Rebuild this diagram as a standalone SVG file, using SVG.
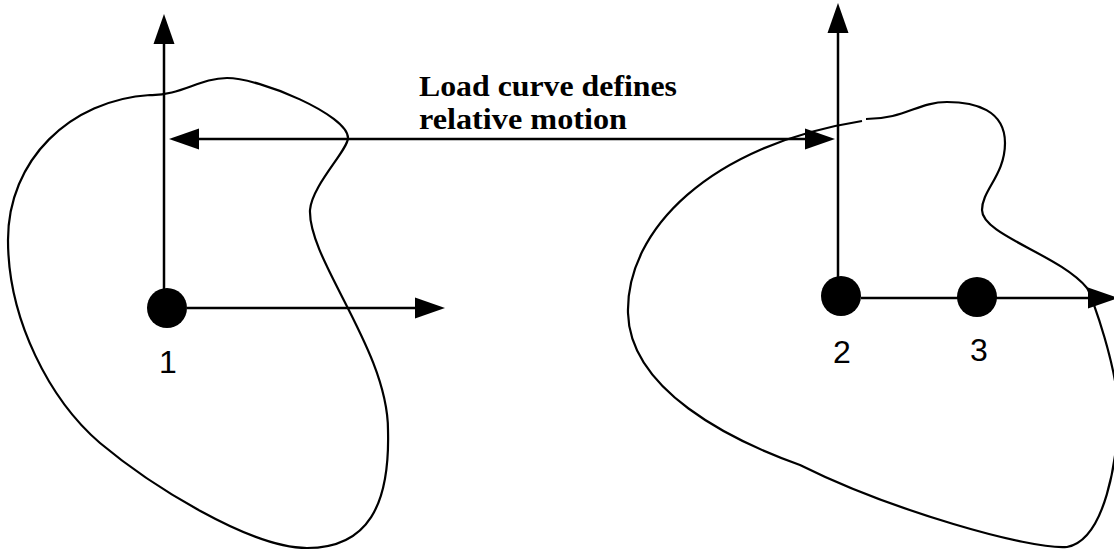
<svg xmlns="http://www.w3.org/2000/svg" width="1114" height="552" viewBox="0 0 1114 552">
<style>
.blob{fill:none;stroke:#000;stroke-width:2.2;stroke-linejoin:round}
.ax{fill:none;stroke:#000;stroke-width:2.5}
.node{fill:#000}
.num{font-family:"Liberation Sans",Arial,sans-serif;font-size:32px;fill:#000;text-anchor:middle}
.lbl{font-family:"Liberation Serif","Times New Roman",serif;font-size:29px;font-weight:bold;fill:#000}
</style>
<defs>
<marker id="ah" markerUnits="userSpaceOnUse" markerWidth="31" markerHeight="22" refX="0" refY="10.5" orient="auto-start-reverse" viewBox="0 0 31 21">
<path d="M0,0 L30,10.5 L0,21 Z" fill="#000"/>
</marker>
</defs>
<g id="bodies">
<path id="body1" class="blob" d="M150,95 C180,96 200,78 227,78 C260,78 348,115 348,138 C348,150 312,185 310,210 C308,260 388,350 388,430 C390,505 368,548 307,548 C250,548 150,485 100,443 C50,400 8,320 8,240 C8,160 70,100 150,95 Z"/>
<path id="body2" class="blob" d="M866,119 C905,119 918,102 947,102 C975,102 1005,110 1005,143 C1005,175 982,190 982,210 C982,235 1060,255 1087,288 C1092,296 1118,370 1118,410 C1118,460 1105,540 1067,547 C1030,550 890,510 800,465 C730,440 630,390 628,313 C626,230 710,145 862,121"/>
</g>
<g id="connectors">
<line class="ax" x1="164" y1="290" x2="164" y2="44" marker-end="url(#ah)"/>
<line class="ax" x1="187" y1="308" x2="415" y2="308" marker-end="url(#ah)"/>
<line class="ax" x1="838" y1="278" x2="838" y2="33" marker-end="url(#ah)"/>
<line class="ax" x1="861" y1="298" x2="1088" y2="298" marker-end="url(#ah)"/>
<line class="ax" x1="199" y1="139" x2="805" y2="139" marker-start="url(#ah)" marker-end="url(#ah)"/>
</g>
<g id="node1"><circle class="node" cx="167" cy="308" r="20"/><text class="num" x="168" y="373">1</text></g>
<g id="node2"><circle class="node" cx="841" cy="296" r="20"/><text class="num" x="842" y="363">2</text></g>
<g id="node3"><circle class="node" cx="977" cy="297" r="20"/><text class="num" x="979" y="361">3</text></g>
<g id="label"><text class="lbl" x="419" y="96" textLength="258" lengthAdjust="spacingAndGlyphs">Load curve defines</text><text class="lbl" x="419" y="129" textLength="208" lengthAdjust="spacingAndGlyphs">relative motion</text></g>
</svg>
